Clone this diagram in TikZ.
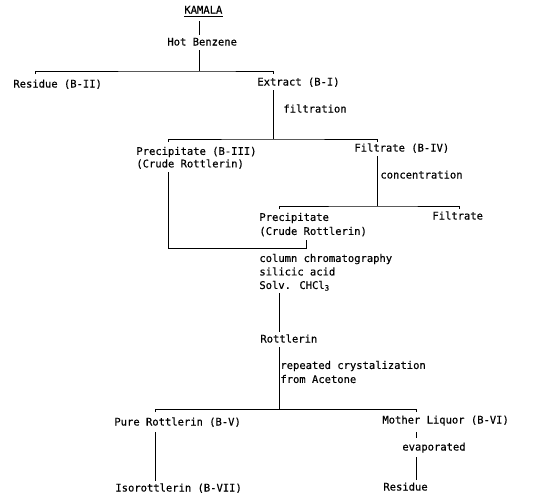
\documentclass[tikz,border=0pt]{standalone}
\usepackage{fontspec}
\newfontfamily\twfont{DejaVu Sans Mono}[FakeBold=0.4]
\begin{document}
\begin{tikzpicture}[x=1pt,y=-1pt,
  every path/.style={line width=0.8pt},
  txt/.style={font=\twfont\fontsize{10.5}{13.5}\selectfont, inner xsep=0pt, inner ysep=2pt,
              text height=8pt, text depth=2.5pt, anchor=base west},
  multi/.style={font=\twfont\fontsize{10.5}{#1}\selectfont, inner sep=0pt, anchor=north west, align=left}]
\useasboundingbox (0,0) rectangle (548,499);
% nodes
\node[txt] (kamala) at (184,13.5) {KAMALA};
\node[txt] (hotb)   at (167,45.5) {Hot Benzene};
\node[txt] (res1)   at (13,87.5)  {Residue (B-II)};
\node[txt] (extr)   at (257,85.5) {Extract (B-I)};
\node[txt] (filtr)  at (283,112.5) {filtration};
\node[multi=12.5] (prec1) at (136,146.5) {Precipitate (B-III)\\(Crude Rottlerin)};
\node[txt] (filt1)  at (354,151.5) {Filtrate (B-IV)};
\node[txt] (conc)   at (380,178.5) {concentration};
\node[multi=14] (prec2) at (259,212.5) {Precipitate\\(Crude Rottlerin)};
\node[txt] (filt2)  at (432,219.5) {Filtrate};
\node[multi=13.5] (colc) at (259,253.5) {column chromatography\\silicic acid\\Solv. CHCl\textsubscript{3}};
\node[txt] (rott)   at (260,342.5) {Rottlerin};
\node[multi=14] (recr) at (280,360.5) {repeated crystalization\\from Acetone};
\node[txt] (pure)   at (114,425.5) {Pure Rottlerin (B-V)};
\node[txt] (moth)   at (382,423.5) {Mother Liquor (B-VI)};
\node[txt] (evap)   at (402,450.5) {evaporated};
\node[txt] (iso)    at (115,491.5) {Isorottlerin (B-VII)};
\node[txt] (res2)   at (383,490.5) {Residue};
% underline
\draw ([yshift=-2.5pt]kamala.base west) -- ([yshift=-2.5pt]kamala.base east);
% junction coordinates
\coordinate (s1) at (199,71);
\coordinate (t1a) at (35,74);  \coordinate (t1b) at (273,74);
\coordinate (s2) at (273,139);
\coordinate (t2a) at (168,142); \coordinate (t2b) at (377,142);
\coordinate (s3) at (377,206);
\coordinate (t3a) at (279,209); \coordinate (t3b) at (459,209);
\coordinate (s4) at (306,248);
\coordinate (s5) at (279,300);
\coordinate (s6) at (279,409);
\coordinate (t6a) at (155,412); \coordinate (t6b) at (416,412);
% connectors
\draw[shorten <=3pt] (kamala.south -| s1) -- (hotb.north -| s1);
\draw (hotb.south -| s1) -- (s1);
\draw (t1a) |- (s1) -| (t1b);
\draw (extr.south -| s2) -- (s2);
\draw (t2a) |- (s2) -| (t2b);
\draw (filt1.south -| s3) -- (s3);
\draw (t3a) |- (s3) -| (t3b);
\draw[shorten <=3pt, shorten >=3pt] (prec1.south -| t2a) |- (s4) -- (prec2.south -| s4);
\draw[shorten <=2pt] (colc.south -| s5) -- (rott.north -| s5);
\draw (rott.south -| s6) -- (s6);
\draw (t6a) |- (s6) -| (t6b);
\draw[shorten <=2pt] (pure.south -| t6a) -- (iso.north -| t6a);
\draw[shorten <=4pt, shorten >=2pt] (moth.south -| t6b) -- (evap.north -| t6b);
\draw[shorten <=2pt] (evap.south -| t6b) -- (res2.north -| t6b);
\end{tikzpicture}
\end{document}
